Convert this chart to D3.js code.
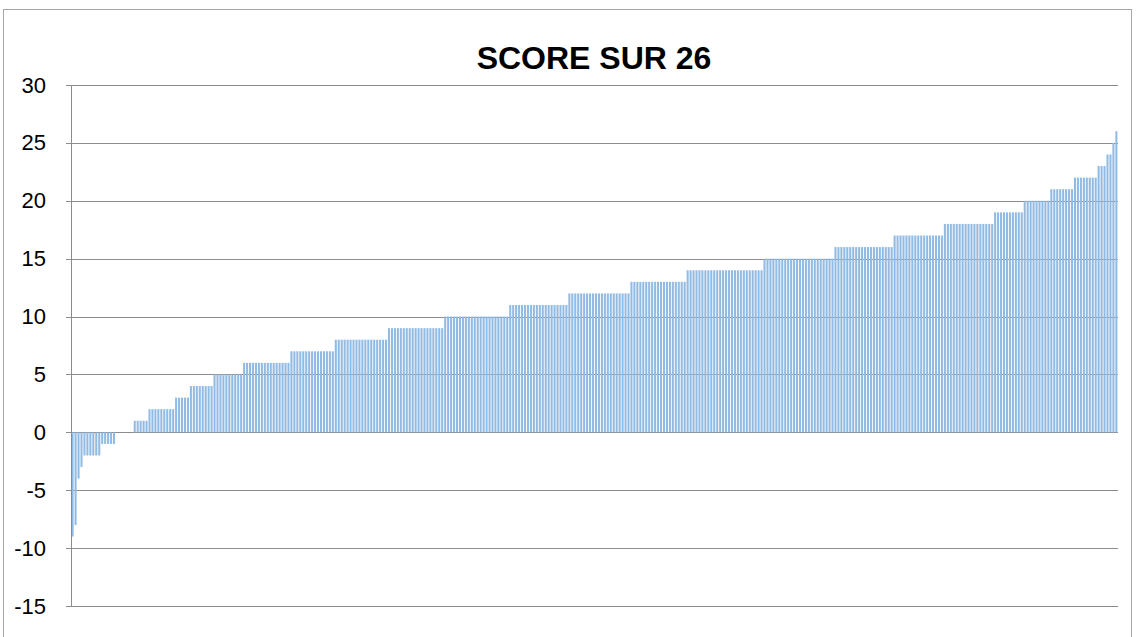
<!DOCTYPE html>
<html>
<head>
<meta charset="utf-8">
<script src="https://cdn.jsdelivr.net/npm/d3@7"></script>
<style>
	body { margin: 0; background: #fff; }
	svg { display: block; }
</style>
</head>
<body>
<div id="chart"></div>
<script>

// score values (sorted) and how many bars sit at each one
const scores = [-9, -8, -4, -3, -2, -1, 0, 1, 2, 3, 4, 5, 6, 7, 8, 9, 10, 11, 12, 13, 14, 15, 16, 17, 18, 19, 20, 21, 22, 23, 24, 25, 26]
const counts = [1, 1, 1, 1, 6, 5, 6, 5, 9, 5, 8, 10, 16, 15, 18, 19, 22, 20, 21, 19, 26, 24, 20, 17, 17, 10, 9, 8, 8, 3, 2, 1, 1]
const yTicks = [-15, -10, -5, 0, 5, 10, 15, 20, 25, 30]
const title = "SCORE SUR 26"

var data = []
scores.forEach(function(s, i) {
	for (var k = 0; k < counts[i]; k++) data.push(s)
})

var width = 1139
var height = 637
var plot = { left: 71, right: 1118, top: 85, bottom: 606 }

var svg = d3.select("#chart").append("svg")
	.attr("width", width)
	.attr("height", height)

// chart area border
svg.append("rect")
	.attr("x", 3.5)
	.attr("y", 9.5)
	.attr("width", 1128)
	.attr("height", 640)
	.attr("fill", "#fff")
	.attr("stroke", "#a6a6a6")

var x = d3.scaleBand()
	.domain(d3.range(data.length))
	.range([plot.left, plot.right])
	.paddingInner(0.3)
	.paddingOuter(0.2)

var y = d3.scaleLinear()
	.domain([-15, 30])
	.range([plot.bottom, plot.top])

// gridlines
svg.append("g")
	.attr("class", "grid")
	.selectAll("line")
	.data(yTicks)
	.enter()
	.append("line")
	.attr("x1", plot.left - 5)
	.attr("x2", plot.right)
	.attr("y1", d => Math.round(y(d)) + 0.5)
	.attr("y2", d => Math.round(y(d)) + 0.5)
	.attr("stroke", "#8c8c8c")
	.attr("stroke-width", 1)

// bars
svg.append("g")
	.attr("class", "bars")
	.selectAll("rect")
	.data(data)
	.enter()
	.append("rect")
	.attr("x", (d, i) => x(i))
	.attr("width", x.bandwidth())
	.attr("y", d => Math.min(y(d), y(0)))
	.attr("height", d => Math.abs(y(d) - y(0)))
	.attr("fill", "#92bbe4")

// y axis line
svg.append("line")
	.attr("x1", plot.left + 0.5)
	.attr("x2", plot.left + 0.5)
	.attr("y1", plot.top)
	.attr("y2", plot.bottom)
	.attr("stroke", "#8c8c8c")

var yAxis = d3.axisLeft(y)
	.tickValues(yTicks)
	.tickFormat(d => String(d))
	.tickSize(0)
	.tickPadding(25)

var yAxisGroup = svg.append("g")
	.attr("class", "yAxisGroup")
	.attr("transform", "translate(" + plot.left + ", 0)")
	.call(yAxis)

yAxisGroup.select(".domain").remove()
yAxisGroup.selectAll(".tick text")
	.attr("font-family", "Liberation Sans, Arial, sans-serif")
	.attr("font-size", "22px")
	.attr("fill", "#000")

svg.append("text")
	.attr("x", 594)
	.attr("y", 69)
	.attr("text-anchor", "middle")
	.attr("font-family", "Liberation Sans, Arial, sans-serif")
	.attr("font-weight", "bold")
	.attr("font-size", "32px")
	.text(title)

</script>
</body>
</html>
